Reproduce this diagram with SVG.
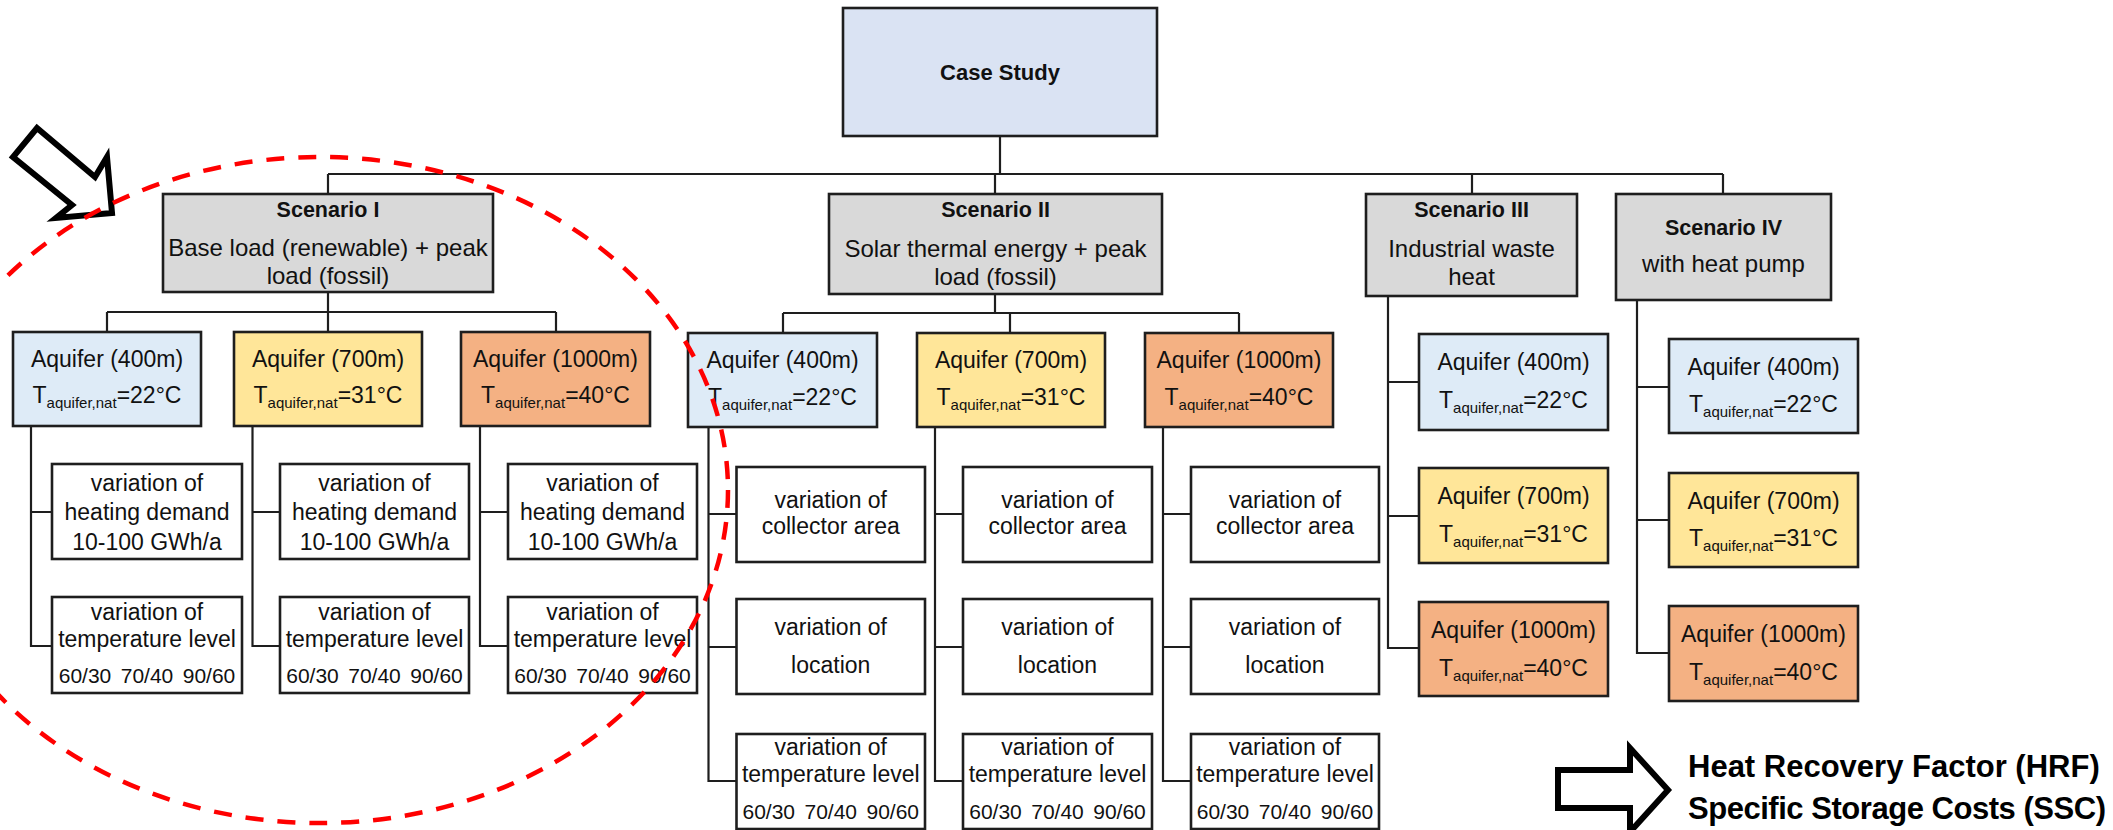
<svg xmlns="http://www.w3.org/2000/svg" width="2113" height="830" viewBox="0 0 2113 830">
<defs>
<style>
.bx{stroke:#1e1e1e;stroke-width:2.6}
.gray{fill:#d9d9d9}
.blue{fill:#deebf7}
.case{fill:#dae3f3}
.yel{fill:#ffe699}
.org{fill:#f4b183}
.wht{fill:#ffffff}
.t{font-family:"Liberation Sans",Arial,sans-serif;font-size:23px;fill:#111;text-anchor:middle}
.tb{font-family:"Liberation Sans",Arial,sans-serif;font-size:21.5px;font-weight:bold;fill:#111;text-anchor:middle}
.ts{font-size:24px}
.sub{font-size:15px}
.num{font-size:21px}
.con{fill:none;stroke:#1e1e1e;stroke-width:2.2}
.big{font-family:"Liberation Sans",Arial,sans-serif;font-size:31px;font-weight:bold;fill:#000}
.arr{fill:#fff;stroke:#000;stroke-width:6;stroke-linejoin:miter}
</style>
</defs>
<rect width="2113" height="830" fill="#fff"/>

<g id="connectors" class="con">
<path d="M1000,136V174M328,174H1723M328,174V194M995,174V194M1472,174V194M1723,174V194"/>
<path d="M328,292V312M107,312H556M107,312V332M328,312V332M556,312V332"/>
<path d="M31,426V646H52M31,512H52M252.5,426V646H280M252.5,512H280M480,426V646H508M480,512H508"/>
<path d="M995,294V313M783,313H1239M783,313V333M1010,313V333M1239,313V333"/>
<path d="M708.5,427V781H736.5M708.5,514H736.5M708.5,647H736.5M935,427V781H963M935,514H963M935,647H963M1163,427V781H1191M1163,514H1191M1163,647H1191"/>
<path d="M1388,296V648H1419M1388,382H1419M1388,516H1419"/>
<path d="M1637,300V653H1669M1637,387H1669M1637,520H1669"/>
</g>

<g id="case-study"><rect class="bx case" x="843" y="8" width="314" height="128"/><text class="tb" x="1000" y="80" style="font-size:22px">Case Study</text></g>

<g id="scenario-1"><rect class="bx gray" x="163" y="194" width="330" height="98"/>
<text class="tb" x="328" y="217">Scenario I</text>
<text class="t ts" x="328" y="256">Base load (renewable) + peak</text>
<text class="t ts" x="328" y="284">load (fossil)</text></g>

<g id="scenario-2"><rect class="bx gray" x="829" y="194" width="333" height="100"/>
<text class="tb" x="995.5" y="217">Scenario II</text>
<text class="t ts" x="995.5" y="257">Solar thermal energy + peak</text>
<text class="t ts" x="995.5" y="285">load (fossil)</text></g>

<g id="scenario-3"><rect class="bx gray" x="1366" y="194" width="211" height="102"/>
<text class="tb" x="1471.5" y="217">Scenario III</text>
<text class="t ts" x="1471.5" y="257">Industrial waste</text>
<text class="t ts" x="1471.5" y="285">heat</text></g>

<g id="scenario-4"><rect class="bx gray" x="1616" y="194" width="215" height="106"/>
<text class="tb" x="1723.5" y="235">Scenario IV</text>
<text class="t ts" x="1723.5" y="272">with heat pump</text></g>

<!-- Scenario I aquifers -->
<g id="s1-aq400"><rect class="bx blue" x="13" y="332" width="188" height="94"/>
<text class="t" x="107" y="367">Aquifer (400m)</text>
<text class="t" x="107" y="403">T<tspan class="sub" dy="5">aquifer,nat</tspan><tspan dy="-5">=22°C</tspan></text></g>
<g id="s1-aq700"><rect class="bx yel" x="234" y="332" width="188" height="94"/>
<text class="t" x="328" y="367">Aquifer (700m)</text>
<text class="t" x="328" y="403">T<tspan class="sub" dy="5">aquifer,nat</tspan><tspan dy="-5">=31°C</tspan></text></g>
<g id="s1-aq1000"><rect class="bx org" x="461" y="332" width="189" height="94"/>
<text class="t" x="555.5" y="367">Aquifer (1000m)</text>
<text class="t" x="555.5" y="403">T<tspan class="sub" dy="5">aquifer,nat</tspan><tspan dy="-5">=40°C</tspan></text></g>

<!-- Scenario I variations -->
<g id="s1-heat-1"><rect class="bx wht" x="52" y="464" width="190" height="95"/>
<text class="t" x="147" y="491">variation of</text><text class="t" x="147" y="520">heating demand</text><text class="t" x="147" y="550">10-100 GWh/a</text></g>
<g id="s1-heat-2"><rect class="bx wht" x="280" y="464" width="189" height="95"/>
<text class="t" x="374.5" y="491">variation of</text><text class="t" x="374.5" y="520">heating demand</text><text class="t" x="374.5" y="550">10-100 GWh/a</text></g>
<g id="s1-heat-3"><rect class="bx wht" x="508" y="464" width="189" height="95"/>
<text class="t" x="602.5" y="491">variation of</text><text class="t" x="602.5" y="520">heating demand</text><text class="t" x="602.5" y="550">10-100 GWh/a</text></g>

<g id="s1-temp-1"><rect class="bx wht" x="52" y="597" width="190" height="96"/>
<text class="t" x="147" y="620">variation of</text><text class="t" x="147" y="647">temperature level</text>
<text class="t num" y="683"><tspan x="85">60/30</tspan><tspan x="147">70/40</tspan><tspan x="209">90/60</tspan></text></g>
<g id="s1-temp-2"><rect class="bx wht" x="280" y="597" width="189" height="96"/>
<text class="t" x="374.5" y="620">variation of</text><text class="t" x="374.5" y="647">temperature level</text>
<text class="t num" y="683"><tspan x="312.5">60/30</tspan><tspan x="374.5">70/40</tspan><tspan x="436.5">90/60</tspan></text></g>
<g id="s1-temp-3"><rect class="bx wht" x="508" y="597" width="189" height="96"/>
<text class="t" x="602.5" y="620">variation of</text><text class="t" x="602.5" y="647">temperature level</text>
<text class="t num" y="683"><tspan x="540.5">60/30</tspan><tspan x="602.5">70/40</tspan><tspan x="664.5">90/60</tspan></text></g>

<!-- Scenario II aquifers -->
<g id="s2-aq400"><rect class="bx blue" x="688" y="333" width="189" height="94"/>
<text class="t" x="782.5" y="368">Aquifer (400m)</text>
<text class="t" x="782.5" y="405">T<tspan class="sub" dy="5">aquifer,nat</tspan><tspan dy="-5">=22°C</tspan></text></g>
<g id="s2-aq700"><rect class="bx yel" x="917" y="333" width="188" height="94"/>
<text class="t" x="1011" y="368">Aquifer (700m)</text>
<text class="t" x="1011" y="405">T<tspan class="sub" dy="5">aquifer,nat</tspan><tspan dy="-5">=31°C</tspan></text></g>
<g id="s2-aq1000"><rect class="bx org" x="1145" y="333" width="188" height="94"/>
<text class="t" x="1239" y="368">Aquifer (1000m)</text>
<text class="t" x="1239" y="405">T<tspan class="sub" dy="5">aquifer,nat</tspan><tspan dy="-5">=40°C</tspan></text></g>

<!-- Scenario II variations -->
<g id="s2-coll-1"><rect class="bx wht" x="736.5" y="467" width="188.5" height="95"/>
<text class="t" x="830.75" y="508">variation of</text><text class="t" x="830.75" y="534">collector area</text></g>
<g id="s2-coll-2"><rect class="bx wht" x="963" y="467" width="189" height="95"/>
<text class="t" x="1057.5" y="508">variation of</text><text class="t" x="1057.5" y="534">collector area</text></g>
<g id="s2-coll-3"><rect class="bx wht" x="1191" y="467" width="188" height="95"/>
<text class="t" x="1285" y="508">variation of</text><text class="t" x="1285" y="534">collector area</text></g>

<g id="s2-loc-1"><rect class="bx wht" x="736.5" y="599" width="188.5" height="95"/>
<text class="t" x="830.75" y="635">variation of</text><text class="t" x="830.75" y="673">location</text></g>
<g id="s2-loc-2"><rect class="bx wht" x="963" y="599" width="189" height="95"/>
<text class="t" x="1057.5" y="635">variation of</text><text class="t" x="1057.5" y="673">location</text></g>
<g id="s2-loc-3"><rect class="bx wht" x="1191" y="599" width="188" height="95"/>
<text class="t" x="1285" y="635">variation of</text><text class="t" x="1285" y="673">location</text></g>

<g id="s2-temp-1"><rect class="bx wht" x="736.5" y="734" width="188.5" height="95"/>
<text class="t" x="830.75" y="755">variation of</text><text class="t" x="830.75" y="782">temperature level</text>
<text class="t num" y="819"><tspan x="768.75">60/30</tspan><tspan x="830.75">70/40</tspan><tspan x="892.75">90/60</tspan></text></g>
<g id="s2-temp-2"><rect class="bx wht" x="963" y="734" width="189" height="95"/>
<text class="t" x="1057.5" y="755">variation of</text><text class="t" x="1057.5" y="782">temperature level</text>
<text class="t num" y="819"><tspan x="995.5">60/30</tspan><tspan x="1057.5">70/40</tspan><tspan x="1119.5">90/60</tspan></text></g>
<g id="s2-temp-3"><rect class="bx wht" x="1191" y="734" width="188" height="95"/>
<text class="t" x="1285" y="755">variation of</text><text class="t" x="1285" y="782">temperature level</text>
<text class="t num" y="819"><tspan x="1223">60/30</tspan><tspan x="1285">70/40</tspan><tspan x="1347">90/60</tspan></text></g>

<!-- Scenario III aquifers -->
<g id="s3-aq400"><rect class="bx blue" x="1419" y="334" width="189" height="96"/>
<text class="t" x="1513.5" y="370">Aquifer (400m)</text>
<text class="t" x="1513.5" y="408">T<tspan class="sub" dy="5">aquifer,nat</tspan><tspan dy="-5">=22°C</tspan></text></g>
<g id="s3-aq700"><rect class="bx yel" x="1419" y="468" width="189" height="95"/>
<text class="t" x="1513.5" y="504">Aquifer (700m)</text>
<text class="t" x="1513.5" y="542">T<tspan class="sub" dy="5">aquifer,nat</tspan><tspan dy="-5">=31°C</tspan></text></g>
<g id="s3-aq1000"><rect class="bx org" x="1419" y="602" width="189" height="94"/>
<text class="t" x="1513.5" y="638">Aquifer (1000m)</text>
<text class="t" x="1513.5" y="676">T<tspan class="sub" dy="5">aquifer,nat</tspan><tspan dy="-5">=40°C</tspan></text></g>

<!-- Scenario IV aquifers -->
<g id="s4-aq400"><rect class="bx blue" x="1669" y="339" width="189" height="94"/>
<text class="t" x="1763.5" y="375">Aquifer (400m)</text>
<text class="t" x="1763.5" y="412">T<tspan class="sub" dy="5">aquifer,nat</tspan><tspan dy="-5">=22°C</tspan></text></g>
<g id="s4-aq700"><rect class="bx yel" x="1669" y="473" width="189" height="94"/>
<text class="t" x="1763.5" y="509">Aquifer (700m)</text>
<text class="t" x="1763.5" y="546">T<tspan class="sub" dy="5">aquifer,nat</tspan><tspan dy="-5">=31°C</tspan></text></g>
<g id="s4-aq1000"><rect class="bx org" x="1669" y="606" width="189" height="95"/>
<text class="t" x="1763.5" y="642">Aquifer (1000m)</text>
<text class="t" x="1763.5" y="680">T<tspan class="sub" dy="5">aquifer,nat</tspan><tspan dy="-5">=40°C</tspan></text></g>

<!-- Result arrow and labels -->
<g id="result">
<polygon class="arr" points="1558,770 1630,770 1630,748 1668,790 1630,832 1630,808 1558,808"/>
<text class="big" x="1688" y="777">Heat Recovery Factor (HRF)</text>
<text class="big" x="1688" y="819" textLength="418">Specific Storage Costs (SSC)</text>
</g>

<!-- Focus arrow -->
<g id="focus-arrow">
<polygon class="arr" points="37,128 95,177 107,157 112,213 56,218 72,205 13,157"/>
</g>

<!-- Red dashed highlight -->
<g id="highlight">
<ellipse cx="320" cy="490" rx="408" ry="333" fill="none" stroke="#ff0000" stroke-width="4.5" stroke-dasharray="18 14"/>
</g>
</svg>
